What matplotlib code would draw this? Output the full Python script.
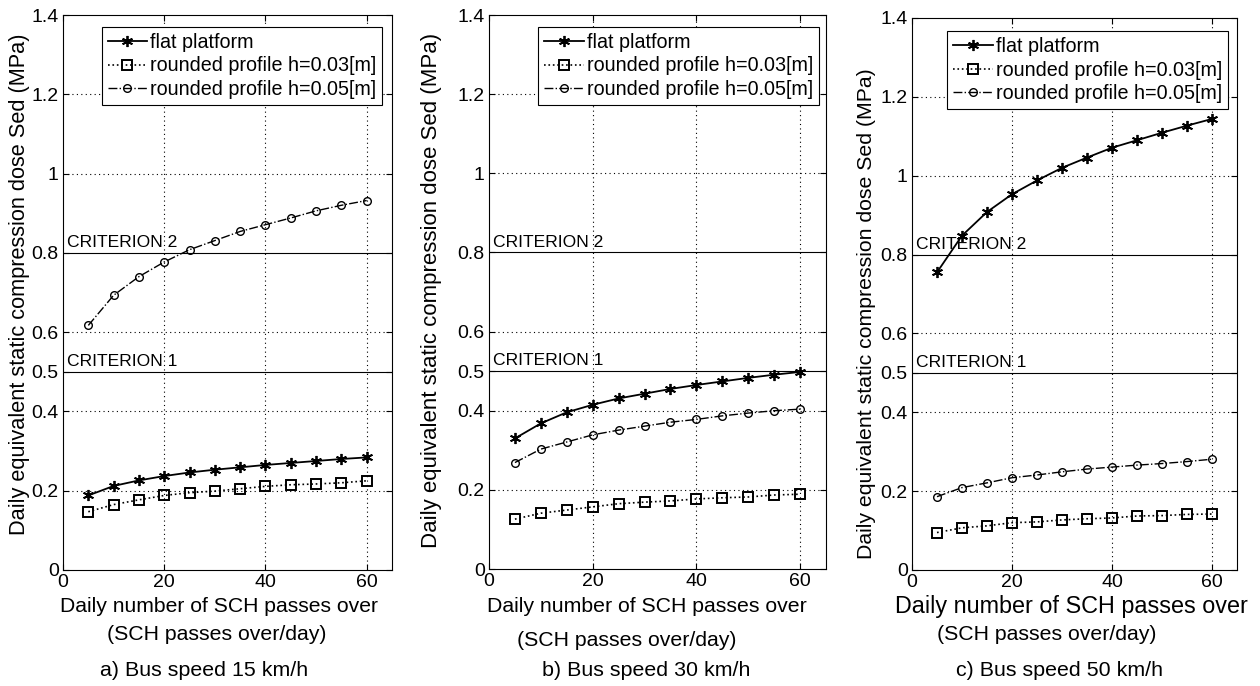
import matplotlib
matplotlib.use("Agg")
import matplotlib.pyplot as plt

# -----------------------
# Data
# -----------------------
passes = [5, 10, 15, 20, 25, 30, 35, 40, 45, 50, 55, 60]

flat_15 = [0.188, 0.212, 0.226, 0.237, 0.246, 0.253, 0.259, 0.265, 0.270, 0.275, 0.280, 0.284]
h03_15 = [0.147, 0.165, 0.177, 0.188, 0.195, 0.199, 0.205, 0.211, 0.215, 0.217, 0.220, 0.225]
h05_15 = [0.617, 0.693, 0.740, 0.777, 0.808, 0.831, 0.854, 0.871, 0.888, 0.906, 0.920, 0.932]

flat_30 = [0.330, 0.368, 0.396, 0.415, 0.431, 0.443, 0.455, 0.465, 0.474, 0.483, 0.491, 0.498]
h03_30 = [0.126, 0.141, 0.149, 0.157, 0.165, 0.169, 0.172, 0.177, 0.180, 0.182, 0.187, 0.189]
h05_30 = [0.269, 0.303, 0.321, 0.339, 0.351, 0.361, 0.371, 0.378, 0.387, 0.394, 0.400, 0.404]

flat_50 = [0.755, 0.848, 0.908, 0.953, 0.988, 1.020, 1.046, 1.071, 1.090, 1.109, 1.127, 1.144]
h03_50 = [0.095, 0.107, 0.112, 0.120, 0.122, 0.127, 0.130, 0.132, 0.137, 0.138, 0.141, 0.142]
h05_50 = [0.186, 0.209, 0.221, 0.234, 0.241, 0.249, 0.256, 0.261, 0.266, 0.270, 0.275, 0.281]

series_labels = ["flat platform", "rounded profile h=0.03[m]", "rounded profile h=0.05[m]"]
captions = ["a) Bus speed 15 km/h", "b) Bus speed 30 km/h", "c) Bus speed 50 km/h"]
yticks = [0, 0.2, 0.4, 0.5, 0.6, 0.8, 1, 1.2, 1.4]
ytick_labels = ["0", "0.2", "0.4", "0.5", "0.6", "0.8", "1", "1.2", "1.4"]
criteria = [(0.5, "CRITERION 1"), (0.8, "CRITERION 2")]

panels = [
    (flat_15, h03_15, h05_15),
    (flat_30, h03_30, h05_30),
    (flat_50, h03_50, h05_50),
]

# -----------------------
# Layout (pixel-matched)
# -----------------------
W, H = 1260, 686
plt.rcParams["font.family"] = ["Liberation Sans", "DejaVu Sans"]

fig = plt.figure(figsize=(W / 100, H / 100), dpi=100)
fig.patch.set_facecolor("white")

# (left, right, top, bottom) in pixels
boxes = [(63, 392, 15, 570), (489, 826, 15, 569), (912, 1237, 18, 570)]
legend_anchor = [(0.970, 0.978), (0.979, 0.978), (0.972, 0.976)]
ylabel_x = [20, 432, 867]
ylabel_y = [284, 290, 314]
ylabel_fs = [15.7, 16.0, 15.3]
xlabel_pos = [(219, 607), (647, 607), (1071, 607)]
xlabel_fs = [15.2, 15.3, 16.8]
sub_pos = [(217, 635), (627, 640), (1047, 635)]
cap_pos = [(204, 671), (646, 671), (1060, 671)]

star = (6, 2, 0)

for i, (flat, h03, h05) in enumerate(panels):
    l, r, t, b = boxes[i]
    ax = fig.add_axes([l / W, 1 - b / H, (r - l) / W, (b - t) / H])

    ax.plot(passes, flat, "-", color="black", lw=1.3, marker=star,
            ms=8, mew=1.3, label=series_labels[0])
    ax.plot(passes, h03, ":", color="black", lw=1.2, marker="s",
            ms=6.5, mew=1.4, mfc="none", label=series_labels[1])
    ax.plot(passes, h05, "-.", color="black", lw=1.0, marker="o",
            ms=5.5, mew=1.0, mfc="none", label=series_labels[2])

    for yv, txt in criteria:
        ax.axhline(yv, color="black", lw=0.8)
        ax.text(0.8, yv + 0.007, txt, fontsize=12.6, va="bottom", ha="left")

    ax.set_xlim(0, 65)
    ax.set_ylim(0, 1.4)
    ax.set_xticks([0, 20, 40, 60])
    ax.set_yticks(yticks)
    ax.set_yticklabels(ytick_labels)
    ax.tick_params(direction="in", top=True, right=True, labelsize=14,
                   length=4, width=0.8, pad=3)

    # dotted grid except at criterion lines
    for xv in [20, 40, 60]:
        ax.axvline(xv, color="black", lw=0.8, ls=(0, (1, 3)), zorder=0)
    for yv in [0.2, 0.4, 0.6, 1.0, 1.2]:
        ax.axhline(yv, color="black", lw=0.8, ls=(0, (1, 3)), zorder=0)

    for s in ax.spines.values():
        s.set_linewidth(0.8)

    leg = ax.legend(loc="upper right", bbox_to_anchor=legend_anchor[i],
                    fontsize=14.2, frameon=True, fancybox=False,
                    framealpha=1, edgecolor="black", borderpad=0.3,
                    labelspacing=0.22, handlelength=2.0, handletextpad=0.15,
                    borderaxespad=0)
    leg.get_frame().set_linewidth(0.8)

    fig.text(ylabel_x[i] / W, 1 - ylabel_y[i] / H,
             "Daily equivalent static compression dose Sed (MPa)",
             rotation=90, ha="center", va="center", fontsize=ylabel_fs[i])
    fig.text(xlabel_pos[i][0] / W, 1 - xlabel_pos[i][1] / H,
             "Daily number of SCH passes over",
             ha="center", va="center", fontsize=xlabel_fs[i])
    fig.text(sub_pos[i][0] / W, 1 - sub_pos[i][1] / H,
             "(SCH passes over/day)",
             ha="center", va="center", fontsize=15.3)
    fig.text(cap_pos[i][0] / W, 1 - cap_pos[i][1] / H, captions[i],
             ha="center", va="center", fontsize=15.4)

fig.savefig("out.png", dpi=100)
